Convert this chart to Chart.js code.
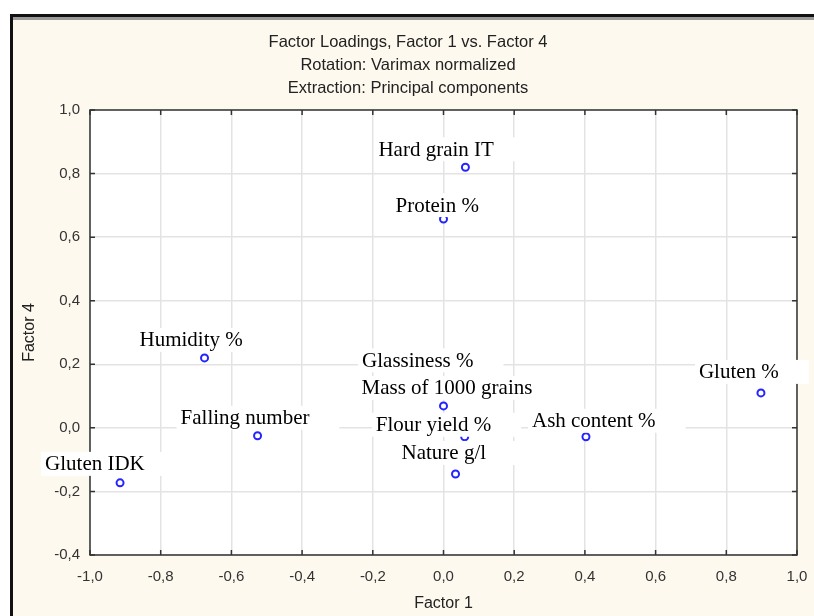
<!DOCTYPE html>
<html>
<head>
<meta charset="utf-8">
<script src="https://cdn.jsdelivr.net/npm/chart.js@4.4.0/dist/chart.umd.min.js"></script>
<style>
    html, body { margin: 0; padding: 0; background: #ffffff; }
    #wrap { position: relative; width: 814px; height: 616px; }
</style>
</head>
<body>
<div id="wrap"><canvas id="loadings" width="814" height="616"></canvas></div>
<script>
// variables, in the order they are labelled
const variables = ['Hard grain IT', 'Protein %', 'Humidity %', 'Glassiness %', 'Mass of 1000 grains',
    'Falling number', 'Flour yield %', 'Ash content %', 'Gluten %', 'Gluten IDK', 'Nature g/l'];
const factor1 = [0.062, 0.0, -0.676, -0.004, 0.0, -0.526, 0.06, 0.403, 0.898, -0.915, 0.034];
const factor4 = [0.82, 0.657, 0.22, 0.14, 0.069, -0.025, -0.028, -0.028, 0.11, -0.173, -0.145];

const xTickLabels = ['-1,0', '-0,8', '-0,6', '-0,4', '-0,2', '0,0', '0,2', '0,4', '0,6', '0,8', '1,0'];
const yTickLabels = ['-0,4', '-0,2', '0,0', '0,2', '0,4', '0,6', '0,8', '1,0'];

const titleLines = ['Factor Loadings, Factor 1 vs. Factor 4', 'Rotation: Varimax normalized', 'Extraction: Principal components'];

// where each label sits relative to its point (pixels: text left, text middle)
const labelOffsets = [[-87, -18], [-48, -14], [-65, -18], [-80, -23], [-82, -18],
    [-77, -18], [-89, -12], [-54, -16], [-62, -21], [-75, -19], [-54, -21]];

const points = factor1.map((x, i) => ({x: x, y: factor4[i]}));

const frame = {
    id: 'frame',
    beforeDraw(chart) {
        const c = chart.ctx;
        const a = chart.chartArea;
        c.save();
        c.fillStyle = '#ffffff';
        c.fillRect(0, 0, chart.width, chart.height);
        c.fillStyle = '#fdf9ef';
        c.fillRect(10, 14, chart.width, chart.height);
        c.fillStyle = '#111111';
        c.fillRect(10, 14, chart.width, 3);
        c.fillRect(10, 14, 3, chart.height);
        c.fillStyle = '#9a9a9a';
        c.fillRect(13, 17, chart.width, 3);
        c.fillStyle = '#ffffff';
        c.fillRect(a.left, a.top, a.right - a.left, a.bottom - a.top);

        c.fillStyle = '#222222';
        c.font = '16.5px "Liberation Sans", Arial, sans-serif';
        c.textAlign = 'center';
        c.textBaseline = 'middle';
        titleLines.forEach((t, i) => c.fillText(t, 408, 42 + i * 23));
        c.font = '16px "Liberation Sans", Arial, sans-serif';
        c.fillText('Factor 1', (a.left + a.right) / 2, 604);
        c.translate(30, (a.top + a.bottom) / 2);
        c.rotate(-Math.PI / 2);
        c.fillText('Factor 4', 0, 0);
        c.restore();
    },
    afterDatasetsDraw(chart) {
        const c = chart.ctx;
        const a = chart.chartArea;
        const xs = chart.scales.x;
        const ys = chart.scales.y;
        c.save();
        // plot frame and inner ticks
        c.strokeStyle = '#333333';
        c.lineWidth = 1.5;
        c.strokeRect(a.left, a.top, a.right - a.left, a.bottom - a.top);
        c.beginPath();
        xs.ticks.forEach((t) => {
            const px = xs.getPixelForValue(t.value);
            c.moveTo(px, a.bottom); c.lineTo(px, a.bottom - 5);
            c.moveTo(px, a.top); c.lineTo(px, a.top + 5);
        });
        ys.ticks.forEach((t) => {
            const py = ys.getPixelForValue(t.value);
            c.moveTo(a.left, py); c.lineTo(a.left + 5, py);
            c.moveTo(a.right, py); c.lineTo(a.right - 5, py);
        });
        c.stroke();

        // point labels on white boxes
        c.font = '21px "Liberation Serif", "Times New Roman", serif';
        c.textBaseline = 'middle';
        c.textAlign = 'left';
        const meta = chart.getDatasetMeta(0);
        meta.data.forEach((el, i) => {
            const lx = el.x + labelOffsets[i][0];
            const ly = el.y + labelOffsets[i][1];
            const w = c.measureText(variables[i]).width;
            c.fillStyle = '#ffffff';
            c.fillRect(lx - 4, ly - 12, w + 34, 24);
            c.fillStyle = '#000000';
            c.fillText(variables[i], lx, ly + 1);
        });
        c.restore();
    }
};

new Chart(document.getElementById('loadings'), {
    type: 'scatter',
    data: {
        datasets: [{
            label: 'Loadings',
            data: points,
            pointStyle: 'circle',
            pointRadius: 3.5,
            pointBorderWidth: 2,
            pointBorderColor: '#2424ff',
            pointBackgroundColor: '#ffffff'
        }]
    },
    options: {
        responsive: false,
        animation: false,
        layout: {padding: {top: 110, right: 17, left: 0, bottom: 0}},
        plugins: {legend: {display: false}, tooltip: {enabled: false}, title: {display: false}},
        scales: {
            x: {
                type: 'linear',
                min: -1, max: 1,
                afterFit: (s) => { s.height = 61; s.paddingRight = 0; s.paddingLeft = 0; },
                ticks: {
                    stepSize: 0.2,
                    padding: 13,
                    color: '#333333',
                    font: {family: '"Liberation Sans", Arial, sans-serif', size: 15},
                    maxRotation: 0,
                    callback: (v, i) => xTickLabels[i]
                },
                grid: {color: '#e3e3e3', lineWidth: 1.5, drawTicks: false},
                border: {display: false}
            },
            y: {
                type: 'linear',
                min: -0.4, max: 1,
                afterFit: (s) => { s.width = 90; s.paddingTop = 0; s.paddingBottom = 0; },
                ticks: {
                    stepSize: 0.2,
                    padding: 10,
                    color: '#333333',
                    font: {family: '"Liberation Sans", Arial, sans-serif', size: 15},
                    callback: (v, i) => yTickLabels[i]
                },
                grid: {color: '#e3e3e3', lineWidth: 1.5, drawTicks: false},
                border: {display: false}
            }
        }
    },
    plugins: [frame]
});
</script>
</body>
</html>
